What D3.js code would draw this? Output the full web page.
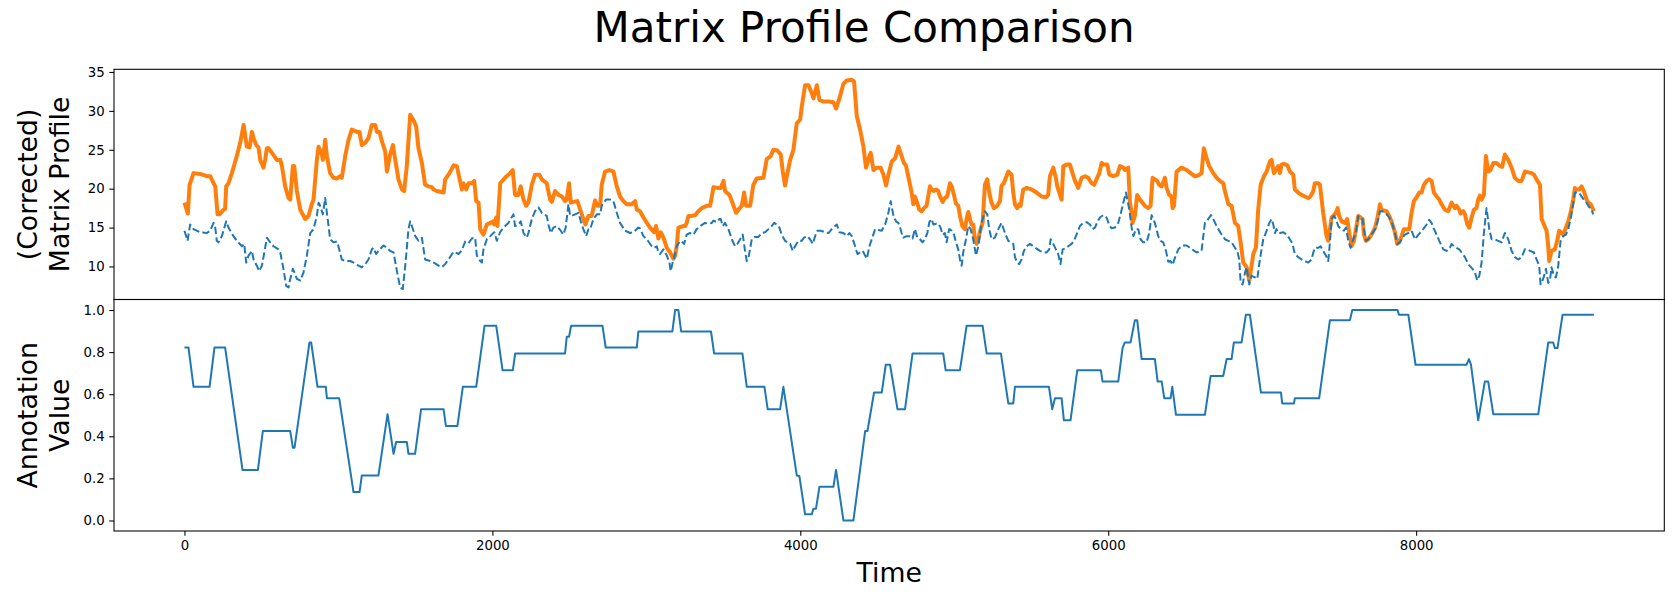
<!DOCTYPE html>
<html>
<head>
<meta charset="utf-8">
<script src="https://cdn.jsdelivr.net/npm/d3@7"></script>
<style>
  body { margin: 0; background: #fff; }
  svg { display: block; }
  text { font-family: "DejaVu Sans", sans-serif; fill: #000; }
</style>
</head>
<body>
<svg id="chart" width="1673" height="598"></svg>
<script>
// ---------------- DATA ----------------
const titleText = "Matrix Profile Comparison";
const xLabel = "Time";
const topYLabel = ["(Corrected)", "Matrix Profile"];
const bottomYLabel = ["Annotation", "Value"];
const xTicks = [0, 2000, 4000, 6000, 8000];
const topYTicks = [10, 15, 20, 25, 30, 35];
const bottomYTicks = [0.0, 0.2, 0.4, 0.6, 0.8, 1.0];

// Corrected matrix profile (orange, thick solid)
const cmpTime = [0,22,33,59,102,145,167,189,200,215,228,254,264,271,286,308,340,362,384,405,423,438,449,466,481,492,513,524,535,546,568,600,622,633,654,676,687,704,713,730,752,784,806,827,838,860,871,892,899,914,925,946,968,990,1011,1022,1044,1066,1087,1120,1137,1152,1174,1195,1217,1239,1250,1267,1282,1304,1315,1336,1354,1369,1390,1412,1427,1444,1466,1488,1505,1520,1542,1563,1585,1607,1618,1639,1661,1683,1693,1715,1748,1769,1802,1812,1830,1845,1867,1882,1895,1910,1921,1932,1942,1964,1986,2003,2012,2025,2033,2051,2082,2115,2132,2147,2169,2184,2202,2219,2234,2256,2277,2305,2321,2353,2375,2386,2407,2429,2451,2472,2483,2498,2509,2526,2552,2570,2591,2604,2624,2645,2667,2682,2700,2710,2732,2760,2786,2808,2829,2851,2873,2905,2927,2938,2959,2981,3003,3024,3050,3063,3078,3094,3111,3133,3154,3176,3187,3197,3208,3241,3252,3262,3273,3295,3317,3338,3360,3392,3414,3436,3468,3483,3501,3511,3540,3566,3583,3598,3620,3635,3648,3674,3695,3717,3760,3782,3808,3825,3851,3873,3886,3901,3912,3934,3955,3977,3999,4009,4031,4053,4074,4085,4107,4124,4150,4183,4215,4232,4254,4280,4302,4334,4349,4367,4388,4410,4427,4449,4457,4475,4496,4522,4540,4557,4572,4594,4616,4638,4658,4673,4686,4701,4723,4734,4744,4755,4773,4788,4803,4820,4831,4842,4853,4868,4881,4896,4907,4924,4939,4954,4972,4983,4998,5011,5026,5037,5052,5069,5080,5091,5102,5112,5123,5134,5145,5156,5171,5184,5199,5214,5227,5242,5258,5279,5297,5307,5322,5335,5351,5372,5383,5394,5409,5422,5431,5448,5470,5502,5535,5567,5595,5610,5621,5643,5660,5669,5682,5697,5708,5730,5751,5768,5784,5805,5827,5849,5870,5892,5909,5924,5942,5957,5972,5994,6007,6033,6059,6076,6098,6108,6130,6141,6152,6158,6173,6188,6206,6238,6260,6275,6288,6303,6318,6331,6347,6368,6379,6396,6411,6418,6427,6444,6476,6509,6541,6563,6585,6606,6621,6634,6656,6682,6704,6725,6747,6758,6780,6801,6823,6844,6860,6877,6899,6916,6931,6942,6959,6974,6990,7011,7029,7050,7061,7076,7089,7104,7115,7126,7141,7163,7180,7202,7212,7234,7256,7277,7299,7314,7332,7342,7364,7375,7396,7418,7429,7440,7451,7466,7479,7490,7500,7516,7537,7552,7565,7580,7596,7609,7624,7639,7652,7661,7674,7689,7710,7732,7747,7765,7775,7790,7808,7825,7840,7862,7877,7890,7905,7920,7938,7955,7970,7985,8003,8020,8035,8050,8068,8085,8100,8115,8133,8150,8165,8187,8208,8230,8241,8252,8262,8280,8288,8306,8317,8332,8345,8360,8375,8392,8403,8414,8425,8440,8453,8468,8483,8501,8522,8544,8559,8576,8598,8620,8641,8663,8685,8706,8728,8750,8765,8782,8804,8815,8830,8847,8858,8864,8879,8901,8916,8929,8944,8955,8973,8988,9003,9020,9031,9042,9059,9074,9089,9107,9118,9133,9146,9154];
const cmpValue = [18.2,16.8,20.5,22.0,21.9,21.6,21.6,20.7,20.3,16.7,16.7,17.3,17.4,20.3,20.7,22.0,24.2,25.9,28.2,25.4,25.3,27.3,26.5,25.6,25.3,23.7,22.7,23.7,25.2,25.2,24.6,23.7,23.7,22.9,20.3,18.8,18.6,22.9,22.9,19.7,17.3,16.1,16.5,18.0,18.6,23.7,25.4,24.4,23.7,26.3,24.2,22.0,21.4,21.3,21.6,21.4,24.2,26.3,27.6,27.3,27.3,25.6,25.9,26.5,28.2,28.2,27.3,27.3,26.1,24.8,22.2,24.4,25.6,23.7,21.2,19.9,19.7,22.9,29.5,28.8,28.0,25.2,23.3,20.5,20.3,20.2,19.9,19.7,19.6,19.5,21.2,21.8,23.0,22.9,19.9,20.7,19.9,20.7,20.7,21.0,18.4,18.2,14.8,14.4,14.1,15.4,15.6,15.8,15.4,16.3,15.2,20.7,21.4,22.0,22.4,19.2,19.2,20.3,18.6,17.8,18.2,20.5,21.8,21.8,21.2,20.7,18.6,18.3,19.7,19.2,19.0,18.4,18.6,20.7,18.2,18.3,18.4,17.3,16.1,15.4,16.5,16.5,18.5,17.8,17.8,20.5,22.2,22.4,22.2,20.3,19.0,18.4,18.0,18.0,18.4,17.3,17.1,16.3,15.6,15.0,14.4,15.2,13.6,14.4,13.7,12.4,11.8,11.0,11.4,12.6,15.0,15.2,15.2,15.6,16.5,16.5,16.6,17.1,17.5,17.8,17.8,20.2,20.1,20.1,21.0,19.7,19.2,17.8,16.9,17.3,17.8,19.5,17.8,17.8,20.5,21.3,21.4,23.8,24.2,25.0,24.9,24.4,22.2,20.4,21.6,23.7,25.0,28.4,28.9,30.5,33.3,33.3,32.3,31.6,33.3,31.4,31.2,31.2,31.1,30.3,31.6,33.5,33.9,34.0,33.8,29.3,27.6,25.4,22.7,24.2,24.6,22.4,22.7,22.7,21.8,20.4,21.8,23.5,23.9,25.4,24.2,23.3,23.0,21.6,19.5,18.0,19.0,18.4,17.3,17.1,17.5,17.8,19.0,20.3,19.9,19.7,19.9,19.7,19.0,18.3,18.8,19.0,20.7,20.3,19.2,18.1,17.8,16.5,15.2,14.8,16.1,17.0,16.1,15.4,15.4,13.5,12.9,13.5,14.8,15.6,20.5,21.2,19.5,18.2,17.5,17.8,18.4,20.4,20.7,21.4,22.2,21.8,19.5,18.0,17.5,18.0,17.8,19.9,20.1,19.9,19.5,19.0,18.9,19.2,21.6,22.7,21.4,20.3,19.5,18.6,22.9,23.1,23.1,22.0,21.0,20.1,21.4,21.6,21.4,20.7,20.5,21.2,22.0,23.3,23.1,23.1,21.8,21.6,21.8,22.9,22.7,22.4,22.7,18.2,16.9,15.6,16.5,19.2,18.6,17.8,17.5,17.8,21.4,21.2,21.0,20.5,20.3,21.4,20.1,19.2,19.0,17.5,17.8,22.2,22.7,22.4,21.9,21.6,21.7,22.0,25.2,24.2,22.9,22.0,21.4,21.0,20.7,19.7,18.0,17.8,15.6,15.2,13.1,10.5,9.9,8.2,10.1,11.6,12.4,17.3,20.5,21.6,22.2,23.5,23.7,22.0,22.4,22.9,22.0,23.1,23.2,23.0,22.2,21.8,19.9,19.5,19.2,19.0,18.8,19.0,19.7,20.7,20.7,20.5,16.9,13.9,13.3,14.8,16.3,16.6,16.9,17.5,16.5,15.8,15.6,16.1,14.4,12.6,13.3,14.8,16.5,16.3,16.1,14.1,13.3,13.5,14.1,14.9,16.1,18.0,17.3,17.2,17.1,16.5,15.8,14.4,12.9,13.1,13.9,14.8,14.8,14.8,16.9,18.4,18.9,19.5,19.5,20.5,21.0,21.2,21.0,19.5,19.0,18.6,18.0,17.3,17.1,18.2,17.8,17.5,17.8,17.3,16.8,17.1,16.7,15.4,15.0,16.3,17.3,17.5,18.6,19.1,18.6,19.2,24.2,22.2,22.4,23.3,23.3,22.9,22.8,24.4,23.7,22.7,21.4,21.0,21.0,22.2,22.1,22.0,21.8,21.2,20.5,16.1,15.4,14.6,12.6,10.7,12.0,12.2,13.3,14.6,14.3,14.1,15.0,15.8,16.9,18.6,20.1,19.9,19.9,20.3,19.7,18.6,18.2,18.0,17.5,17.1];

// Matrix profile (blue, dashed)
const mpTime = [0,20,37,59,102,145,167,189,200,210,221,243,271,286,318,340,373,388,401,416,438,449,470,485,503,524,535,557,578,611,622,639,661,676,687,704,715,730,752,773,795,817,838,860,871,881,899,914,925,936,946,968,990,1000,1022,1044,1076,1109,1130,1152,1174,1195,1217,1228,1245,1260,1293,1315,1336,1358,1380,1401,1418,1434,1455,1466,1477,1499,1520,1542,1563,1596,1628,1650,1672,1693,1715,1748,1780,1802,1823,1845,1867,1888,1899,1921,1932,1942,1964,1986,2012,2029,2050,2072,2104,2137,2147,2169,2184,2202,2223,2234,2256,2277,2299,2321,2353,2364,2379,2396,2418,2444,2461,2476,2494,2505,2526,2559,2574,2591,2609,2624,2635,2656,2678,2700,2710,2738,2764,2786,2808,2829,2862,2894,2916,2948,2959,2981,3003,3035,3050,3068,3078,3089,3111,3133,3150,3158,3171,3180,3197,3219,3236,3245,3262,3284,3306,3327,3349,3381,3403,3425,3436,3457,3475,3483,3496,3511,3533,3555,3576,3591,3609,3626,3641,3652,3663,3685,3706,3728,3750,3771,3793,3814,3830,3847,3864,3879,3901,3916,3934,3951,3966,3988,4009,4024,4046,4063,4081,4096,4111,4133,4161,4183,4204,4226,4237,4254,4280,4302,4319,4334,4356,4371,4388,4406,4421,4432,4449,4464,4486,4507,4529,4551,4572,4587,4605,4622,4637,4648,4658,4669,4690,4712,4729,4744,4760,4777,4794,4809,4825,4838,4853,4864,4881,4896,4911,4924,4939,4950,4967,4983,4998,5011,5026,5037,5048,5058,5076,5091,5106,5123,5141,5156,5177,5199,5214,5227,5242,5264,5286,5307,5329,5351,5366,5383,5394,5409,5422,5437,5452,5470,5491,5513,5535,5556,5578,5600,5617,5626,5643,5660,5675,5690,5704,5719,5740,5762,5777,5794,5816,5838,5859,5881,5898,5914,5929,5946,5968,5989,6007,6022,6043,6065,6080,6098,6115,6137,6152,6163,6180,6195,6210,6227,6249,6266,6282,6303,6325,6340,6357,6375,6390,6405,6418,6433,6455,6483,6509,6531,6552,6574,6606,6628,6650,6667,6682,6699,6715,6730,6758,6780,6801,6823,6838,6851,6860,6873,6888,6899,6916,6931,6953,6968,6985,7007,7029,7046,7061,7072,7083,7093,7104,7115,7137,7158,7180,7197,7212,7234,7256,7277,7299,7321,7332,7342,7364,7379,7396,7414,7429,7440,7451,7466,7479,7494,7511,7531,7544,7559,7574,7591,7609,7624,7639,7652,7661,7674,7689,7710,7732,7747,7765,7782,7797,7819,7840,7862,7877,7894,7912,7927,7949,7970,7992,8007,8024,8046,8068,8085,8100,8111,8128,8150,8176,8198,8219,8230,8245,8262,8280,8295,8317,8338,8366,8382,8397,8410,8425,8440,8457,8475,8490,8511,8533,8555,8576,8598,8620,8641,8663,8685,8706,8721,8739,8765,8782,8799,8808,8825,8843,8858,8869,8879,8895,8908,8923,8938,8955,8973,8988,9003,9020,9031,9046,9059,9074,9089,9107,9118,9139,9150];
const mpValue = [14.6,13.3,15.4,14.8,14.4,14.3,14.6,15.6,15.0,13.3,13.1,13.9,15.8,15.0,13.9,13.3,12.6,12.9,10.5,11.4,12.0,10.9,10.1,9.4,10.1,12.4,13.7,13.1,12.6,12.2,11.8,10.1,7.5,7.3,8.4,9.7,9.2,8.4,8.2,9.2,11.4,14.3,14.8,16.5,18.2,17.8,16.7,18.8,16.9,15.2,13.5,13.1,13.2,12.6,10.9,10.7,10.7,10.4,10.1,9.9,10.3,10.9,12.2,12.4,11.6,12.0,12.7,12.4,12.0,11.8,9.4,7.3,7.1,10.1,14.8,15.8,15.2,13.9,13.3,13.7,10.9,10.7,10.4,10.1,9.9,10.3,10.9,11.9,11.6,12.1,13.2,13.0,13.6,13.7,11.4,10.7,10.5,12.2,13.5,13.9,14.4,13.3,14.4,15.0,15.6,16.7,15.2,15.4,15.8,14.3,13.7,14.3,16.1,17.1,17.6,16.9,16.5,15.4,14.3,15.0,15.2,14.6,14.1,15.0,18.0,16.5,16.6,16.9,15.8,14.8,13.9,14.8,14.8,16.1,16.7,16.7,17.8,18.6,18.6,18.4,16.9,15.6,14.6,14.3,14.4,15.0,14.9,13.9,13.5,12.6,12.4,12.6,11.8,11.6,12.2,11.4,10.5,9.4,10.5,11.1,12.6,13.3,13.1,12.9,14.1,14.3,14.1,14.8,15.2,15.6,15.5,15.6,15.9,15.7,16.1,16.1,15.2,15.6,14.8,13.5,12.6,12.9,13.5,14.1,12.0,10.7,11.1,13.5,13.8,13.8,14.3,14.4,14.8,15.2,15.6,15.4,15.0,14.1,13.3,13.1,12.9,12.0,12.6,13.3,13.3,13.7,13.9,13.5,12.9,13.9,14.6,14.6,14.4,14.3,14.8,15.2,15.4,14.4,14.3,13.9,14.3,13.9,12.6,11.6,11.8,12.0,11.4,11.0,12.6,13.5,14.8,14.7,14.6,15.4,16.9,18.4,16.5,15.8,15.6,15.0,14.3,13.7,13.9,13.9,13.6,14.8,13.7,13.5,13.1,13.5,14.3,15.7,16.1,15.4,15.5,15.5,15.0,14.1,14.3,13.1,14.8,14.6,14.1,13.1,12.2,10.9,10.1,11.8,13.5,15.2,14.8,13.5,11.4,12.6,15.6,17.1,16.7,14.8,13.5,13.7,14.8,15.6,14.3,13.3,13.1,12.9,11.2,10.5,10.3,10.9,12.0,12.6,12.9,12.6,12.3,12.0,11.8,11.8,12.2,13.5,12.9,12.2,11.6,10.3,12.2,12.3,12.6,12.9,13.3,14.1,15.2,15.6,15.7,15.4,14.8,15.0,15.7,16.3,16.6,16.3,15.3,14.9,15.0,15.6,16.7,18.2,19.5,17.3,15.0,13.9,14.8,14.8,13.5,13.1,13.1,14.3,16.6,15.6,13.9,13.3,13.1,12.0,10.6,10.7,10.2,11.1,12.2,12.7,12.7,12.4,12.1,11.8,12.0,15.6,16.1,16.6,16.1,15.4,14.8,14.3,13.5,13.3,13.1,12.4,12.0,10.9,7.9,7.7,9.2,9.9,7.7,8.8,8.6,8.4,10.9,13.5,14.6,15.6,16.1,15.4,14.3,14.8,14.3,14.3,14.4,14.1,13.5,12.9,11.6,11.2,10.9,10.7,10.5,10.9,11.8,12.4,12.4,12.6,12.0,11.4,10.7,13.1,16.1,16.5,16.1,15.2,14.8,14.6,15.0,13.3,12.4,13.5,14.3,16.5,16.1,16.1,14.8,13.3,13.5,14.1,14.8,15.6,17.1,17.1,16.9,16.5,15.8,14.3,12.9,13.1,13.7,14.1,14.3,14.6,13.5,13.9,14.3,14.8,15.4,16.0,15.6,15.0,14.3,13.3,12.2,12.0,12.4,12.9,12.6,12.4,12.2,11.8,11.2,10.3,9.7,9.2,8.2,8.8,10.5,14.3,17.5,14.8,13.5,13.5,13.3,13.1,14.3,13.5,12.0,11.2,10.9,11.2,12.2,12.2,12.0,11.8,10.9,10.1,7.7,8.4,9.7,7.9,8.2,9.9,8.8,8.6,10.1,13.3,13.9,14.1,14.8,16.1,18.0,19.5,19.5,19.5,19.0,18.6,18.2,17.8,17.3,16.7];

// Annotation vector (blue, solid)
const annTime = [0,26,59,163,195,264,377,477,509,687,704,715,812,823,864,918,925,1005,1098,1137,1152,1260,1319,1358,1375,1444,1455,1498,1537,1683,1698,1773,1808,1895,1949,2025,2066,2133,2148,2472,2483,2498,2511,2715,2736,2938,2948,3169,3187,3208,3226,3420,3440,3624,3652,3767,3788,3869,3890,3977,3994,4031,4074,4085,4102,4124,4215,4232,4280,4345,4421,4436,4479,4529,4555,4583,4631,4680,4729,4928,4944,5037,5080,5184,5210,5303,5351,5383,5394,5615,5636,5654,5697,5712,5755,5799,5952,5963,6065,6093,6108,6145,6173,6188,6217,6303,6321,6347,6364,6405,6416,6440,6628,6665,6747,6769,6801,6816,6866,6894,6920,6992,7122,7130,7206,7212,7370,7440,7570,7585,7879,7888,7949,7996,8327,8343,8356,8403,8446,8468,8501,8793,8858,8890,8901,8918,8951,9154];
const annValue = [0.822,0.822,0.635,0.635,0.822,0.822,0.240,0.240,0.425,0.425,0.346,0.346,0.846,0.846,0.635,0.635,0.581,0.581,0.135,0.135,0.214,0.214,0.505,0.317,0.373,0.373,0.317,0.317,0.529,0.529,0.449,0.449,0.635,0.635,0.925,0.925,0.714,0.714,0.794,0.794,0.873,0.873,0.925,0.925,0.822,0.822,0.898,0.898,1.0,1.0,0.898,0.898,0.794,0.794,0.635,0.635,0.529,0.529,0.635,0.214,0.211,0.029,0.029,0.056,0.056,0.160,0.160,0.240,0.0,0.0,0.425,0.425,0.608,0.608,0.740,0.740,0.529,0.529,0.794,0.794,0.714,0.714,0.925,0.925,0.794,0.794,0.556,0.556,0.635,0.635,0.529,0.581,0.581,0.476,0.476,0.714,0.714,0.660,0.660,0.819,0.846,0.846,0.952,0.952,0.767,0.767,0.660,0.660,0.581,0.581,0.635,0.502,0.502,0.687,0.687,0.767,0.767,0.846,0.846,0.978,0.978,0.608,0.608,0.556,0.556,0.581,0.581,0.952,0.952,1.0,1.0,0.978,0.978,0.740,0.740,0.767,0.740,0.476,0.660,0.660,0.505,0.505,0.846,0.846,0.819,0.819,0.978,0.978];

// ---------------- LAYOUT ----------------
const W = 1673, H = 598;
const left = 114, right = 1664.3;
const topY0 = 69.3, splitY = 299.5, bottomY1 = 531;
const tickLen = 4.7, tickPad = 4.7;
const blue = "#1f77b4", orange = "#ff7f0e";

const svg = d3.select("#chart");
svg.append("rect").attr("width", W).attr("height", H).attr("fill", "#fff");

function padded(lo, hi) { const r = hi - lo; return [lo - 0.05 * r, hi + 0.05 * r]; }

const allTime = cmpTime.concat(mpTime, annTime);
const x = d3.scaleLinear().domain(padded(d3.min(allTime), d3.max(allTime))).range([left, right]);
const allTop = cmpValue.concat(mpValue);
const yTop = d3.scaleLinear().domain(padded(d3.min(allTop), d3.max(allTop))).range([splitY, topY0]);
const yBot = d3.scaleLinear().domain(padded(0, 1)).range([bottomY1, splitY]);

function styleAxis(g) {
  g.select(".domain").remove();
  g.selectAll(".tick line").attr("stroke", "#000").attr("stroke-width", 1.07);
  g.selectAll(".tick text").attr("font-size", "13.3px").attr("font-family", "DejaVu Sans").attr("fill", "#000");
}

// Top axes
svg.append("g").attr("transform", `translate(${left},0)`)
  .call(d3.axisLeft(yTop).tickValues(topYTicks).tickFormat(d3.format("d")).tickSize(tickLen).tickPadding(tickPad))
  .call(styleAxis);

// Bottom axes
svg.append("g").attr("transform", `translate(${left},0)`)
  .call(d3.axisLeft(yBot).tickValues(bottomYTicks).tickFormat(d3.format(".1f")).tickSize(tickLen).tickPadding(tickPad))
  .call(styleAxis);

svg.append("g").attr("transform", `translate(0,${bottomY1})`)
  .call(d3.axisBottom(x).tickValues(xTicks).tickFormat(d3.format("d")).tickSize(tickLen).tickPadding(tickPad))
  .call(styleAxis);

// Lines
const lineTop = d3.line().x(d => x(d[0])).y(d => yTop(d[1]));
const lineBot = d3.line().x(d => x(d[0])).y(d => yBot(d[1]));

svg.append("path").datum(d3.zip(cmpTime, cmpValue))
  .attr("d", lineTop).attr("fill", "none").attr("stroke", orange)
  .attr("stroke-width", 4).attr("stroke-linejoin", "round").attr("stroke-linecap", "butt");

svg.append("path").datum(d3.zip(mpTime, mpValue))
  .attr("d", lineTop).attr("fill", "none").attr("stroke", blue)
  .attr("stroke-width", 2).attr("stroke-dasharray", "7.4,3.2").attr("stroke-linejoin", "round");

svg.append("path").datum(d3.zip(annTime, annValue))
  .attr("d", lineBot).attr("fill", "none").attr("stroke", blue)
  .attr("stroke-width", 2).attr("stroke-linejoin", "round");

// Spines
[[topY0, splitY], [splitY, bottomY1]].forEach(([a, b]) => {
  svg.append("rect").attr("x", left).attr("y", a).attr("width", right - left).attr("height", b - a)
    .attr("fill", "none").attr("stroke", "#000").attr("stroke-width", 1.07);
});

// Title
svg.append("text").attr("x", 864).attr("y", 41.5).attr("text-anchor", "middle")
  .attr("font-size", "42px").text(titleText);

// X label
svg.append("text").attr("x", (left + right) / 2).attr("y", 582).attr("text-anchor", "middle")
  .attr("font-size", "26.7px").text(xLabel);

// Y labels
function yLabel(lines, yc) {
  const t = svg.append("text").attr("transform", `translate(0,${yc}) rotate(-90)`)
    .attr("text-anchor", "middle").attr("font-size", "26.7px");
  t.append("tspan").attr("x", 0).attr("y", 36.5).text(lines[0]);
  t.append("tspan").attr("x", 0).attr("y", 68.5).text(lines[1]);
}
yLabel(topYLabel, (topY0 + splitY) / 2);
yLabel(bottomYLabel, (splitY + bottomY1) / 2);
</script>
</body>
</html>
